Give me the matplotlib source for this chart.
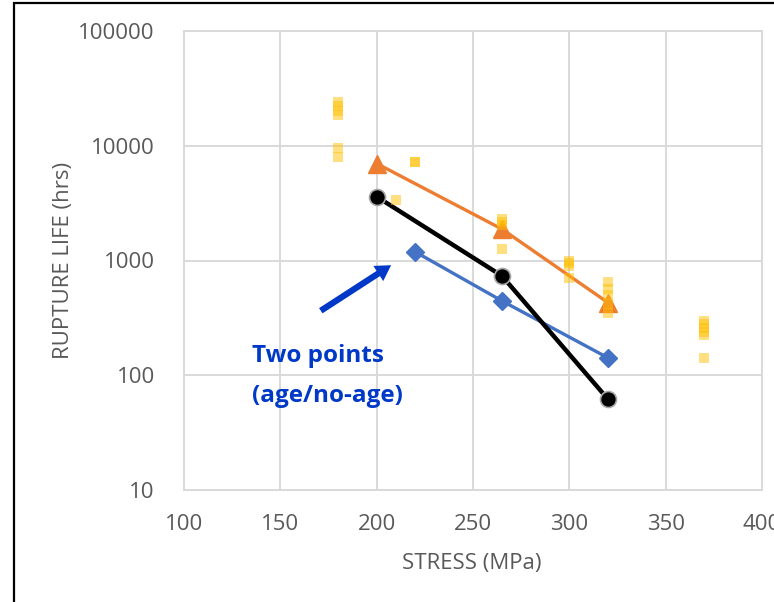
import matplotlib
matplotlib.use("Agg")
import matplotlib.pyplot as plt
from matplotlib.patches import Rectangle
from matplotlib.ticker import FixedLocator, FixedFormatter, NullLocator

plt.rcParams['font.family'] = ['Open Sans', 'DejaVu Sans']

# ---- data ----
stress_orange = [200, 265, 320]
life_orange = [7000, 1880, 430]

stress_black = [200, 265, 320]
life_black = [3600, 735, 62]

stress_blue = [220, 265, 320]
life_blue = [1190, 445, 142]

stress_yellow = [180, 180, 180, 180, 180, 180,
                 210, 220, 220,
                 265, 265, 265, 265,
                 300, 300, 300, 300,
                 320, 320, 320, 320, 320,
                 370, 370, 370, 370, 370, 370]
life_yellow = [24000, 22000, 20000, 18500, 9500, 8000,
               3400, 7200, 7200,
               2300, 2150, 2050, 1250,
               1000, 950, 900, 700,
               650, 560, 500, 420, 350,
               300, 280, 260, 240, 225, 140]

x_ticks = [100, 150, 200, 250, 300, 350, 400]
y_ticks = [10, 100, 1000, 10000, 100000]
y_tick_labels = ['10', '100', '1000', '10000', '100000']

W, H = 774, 602
fig = plt.figure(figsize=(W / 100, H / 100), dpi=100)
ax = fig.add_axes([184 / W, 1 - 490 / H, (762 - 184) / W, (490 - 31) / H])

grid_c = '#D9D9D9'
tick_c = '#595959'

ax.set_yscale('log')
ax.set_xlim(100, 400)
ax.set_ylim(10, 100000)
ax.xaxis.set_major_locator(FixedLocator(x_ticks))
ax.yaxis.set_major_locator(FixedLocator(y_ticks))
ax.yaxis.set_major_formatter(FixedFormatter(y_tick_labels))
ax.yaxis.set_minor_locator(NullLocator())
ax.grid(True, color=grid_c, linewidth=1.4, zorder=0)
ax.set_axisbelow(True)
for s in ax.spines.values():
    s.set_color(grid_c)
    s.set_linewidth(1.4)
ax.tick_params(axis='both', length=0, labelsize=16, colors=tick_c)
ax.tick_params(axis='y', pad=21)
ax.tick_params(axis='x', pad=17)

ax.plot(stress_orange, life_orange, color='#ED7D31', linewidth=2.4,
        marker='^', markersize=13, zorder=3)
ax.plot(stress_blue, life_blue, color='#4472C4', linewidth=2.4,
        marker='D', markersize=9.5, zorder=3)
ax.plot(stress_black, life_black, color='black', linewidth=3.2,
        marker='o', markersize=11.5, markeredgecolor='#A6A6A6',
        markeredgewidth=1.2, zorder=4)
ax.scatter(stress_yellow, life_yellow, marker='s', s=62, color='#FFC000',
           alpha=0.5, linewidths=0, zorder=5)

ax.set_xlabel('STRESS (MPa)', fontsize=16, color=tick_c)
ax.set_ylabel('RUPTURE LIFE (hrs)', fontsize=16, color=tick_c)
ax.xaxis.set_label_coords(0.498, -0.138)
ax.yaxis.set_label_coords(-0.19, 0.501)

blue_txt = '#0038C8'
ax.annotate('', xy=(207.5, 910), xytext=(171, 365),
            arrowprops=dict(arrowstyle='simple,head_length=1.1,head_width=1.3,tail_width=0.45',
                            color=blue_txt, lw=0, shrinkA=0, shrinkB=0), zorder=6)
ax.text(135.5, 147, 'Two points', fontsize=17.5, fontweight='bold', color=blue_txt,
        ha='left', va='center', zorder=6)
ax.text(135.5, 66, '(age/no-age)', fontsize=17.5, fontweight='bold', color=blue_txt,
        ha='left', va='center', zorder=6)

# outer chart border (cut off on right and bottom)
fig.patches.append(Rectangle((14 / W, -0.05), 1.2, 1.05 - 3 / H,
                             transform=fig.transFigure, fill=False,
                             edgecolor='black', linewidth=1.6, clip_on=False))

fig.savefig('out.png', dpi=100)
